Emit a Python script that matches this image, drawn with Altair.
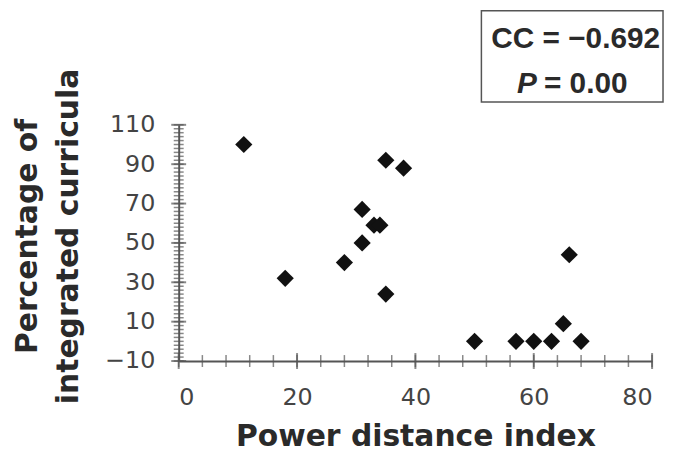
import altair as alt
import pandas as pd

# ---- data ----
pdi = [11, 18, 28, 31, 31, 33, 34, 35, 35, 38, 50, 57, 60, 63, 65, 66, 68]
pct = [100, 32, 40, 67, 50, 59, 59, 92, 24, 88, 0, 0, 0, 0, 9, 44, 0]

x_labels = [0, 20, 40, 60, 80]
y_labels = [-10, 10, 30, 50, 70, 90, 110]
x_minor = list(range(0, 81, 4))
y_minor = list(range(-10, 111, 2))

x_title = "Power distance index"
y_title = ["\u00a0\u00a0Percentage of", "integrated curricula"]
box_line1 = ["CC = \u22120.692"]
box_p = ["P"]
box_rest = ["= 0.00"]

W, H = 477, 238
AX = "#555555"
TXT = "#2a2a2a"

df = pd.DataFrame({"x": pdi, "y": pct})
xs = alt.Scale(domain=[0, 80], nice=False, zero=False)
ys = alt.Scale(domain=[-10, 110], nice=False, zero=False)

x_axis = alt.Axis(
    values=x_labels, ticks=False, grid=False, labelPadding=25,
    labelFont="DejaVu Sans", labelFontSize=24, labelColor="#444444",
    domainColor=AX, domainWidth=2,
    title=x_title, titleFont="DejaVu Sans", titleFontSize=30,
    titleFontWeight="bold", titleColor=TXT, titleY=85, titleBaseline="alphabetic",
)
y_axis = alt.Axis(
    values=y_labels, ticks=False, grid=False, labelPadding=24,
    labelFont="DejaVu Sans", labelFontSize=24, labelColor="#444444",
    domainColor=AX, domainWidth=2,
    title=y_title, titleFont="DejaVu Sans",
    titleFontSize=30, titleFontWeight="bold", titleColor=TXT,
    titleAngle=270, titleX=-143, titleY=112, titleBaseline="alphabetic",
    titleAlign="center", titleLineHeight=41,
)

X = alt.X("x:Q", scale=xs, axis=x_axis, title=x_title)
Y = alt.Y("y:Q", scale=ys, axis=y_axis, title=y_title)

points = alt.Chart(df).mark_point(
    shape="diamond", filled=True, size=300, color="#111111", opacity=1
).encode(x=X, y=Y)

ymin_df = pd.DataFrame({"y": y_minor})
ymaj_df = pd.DataFrame({"y": y_labels})
xmin_df = pd.DataFrame({"x": x_minor})
xmaj_df = pd.DataFrame({"x": x_labels})

y_minor_ticks = alt.Chart(ymin_df).mark_tick(color=AX, thickness=1.5, size=10).encode(
    y=Y, x=alt.value(0))
y_major_ticks = alt.Chart(ymaj_df).mark_tick(color=AX, thickness=2, size=15).encode(
    y=Y, x=alt.value(0))
x_minor_ticks = alt.Chart(xmin_df).mark_tick(color=AX, thickness=1.5, size=12).encode(
    x=X, y=alt.value(H))
x_major_ticks = alt.Chart(xmaj_df).mark_tick(color=AX, thickness=2, size=16).encode(
    x=X, y=alt.value(H))

one = pd.DataFrame({"a": [0]})
box = alt.Chart(one).mark_rect(fill="white", stroke=AX, strokeWidth=1.5).encode(
    x=alt.value(305), x2=alt.value(488), y=alt.value(-115), y2=alt.value(-23))

t1 = alt.Chart(pd.DataFrame({"t": box_line1})).mark_text(
    font="Liberation Sans", fontSize=30, fontWeight="bold", color=TXT,
    align="center", baseline="alphabetic").encode(
    x=alt.value(400), y=alt.value(-77), text="t:N")
t2 = alt.Chart(pd.DataFrame({"t": box_p})).mark_text(
    font="Liberation Sans", fontSize=30, fontWeight="bold", fontStyle="italic",
    color=TXT, align="right", baseline="alphabetic").encode(
    x=alt.value(361), y=alt.value(-32), text="t:N")
t3 = alt.Chart(pd.DataFrame({"t": box_rest})).mark_text(
    font="Liberation Sans", fontSize=30, fontWeight="bold", color=TXT,
    align="left", baseline="alphabetic").encode(
    x=alt.value(368), y=alt.value(-32), text="t:N")

chart = alt.layer(
    y_minor_ticks, y_major_ticks, x_minor_ticks, x_major_ticks, points, box, t1, t2, t3
).properties(
    width=W, height=H, autosize="none",
    padding={"left": 172, "top": 116, "right": 13, "bottom": 96},
    background="white",
).configure_view(stroke=None)

chart.save("out.html", embed_options={"renderer": "svg", "actions": False})
